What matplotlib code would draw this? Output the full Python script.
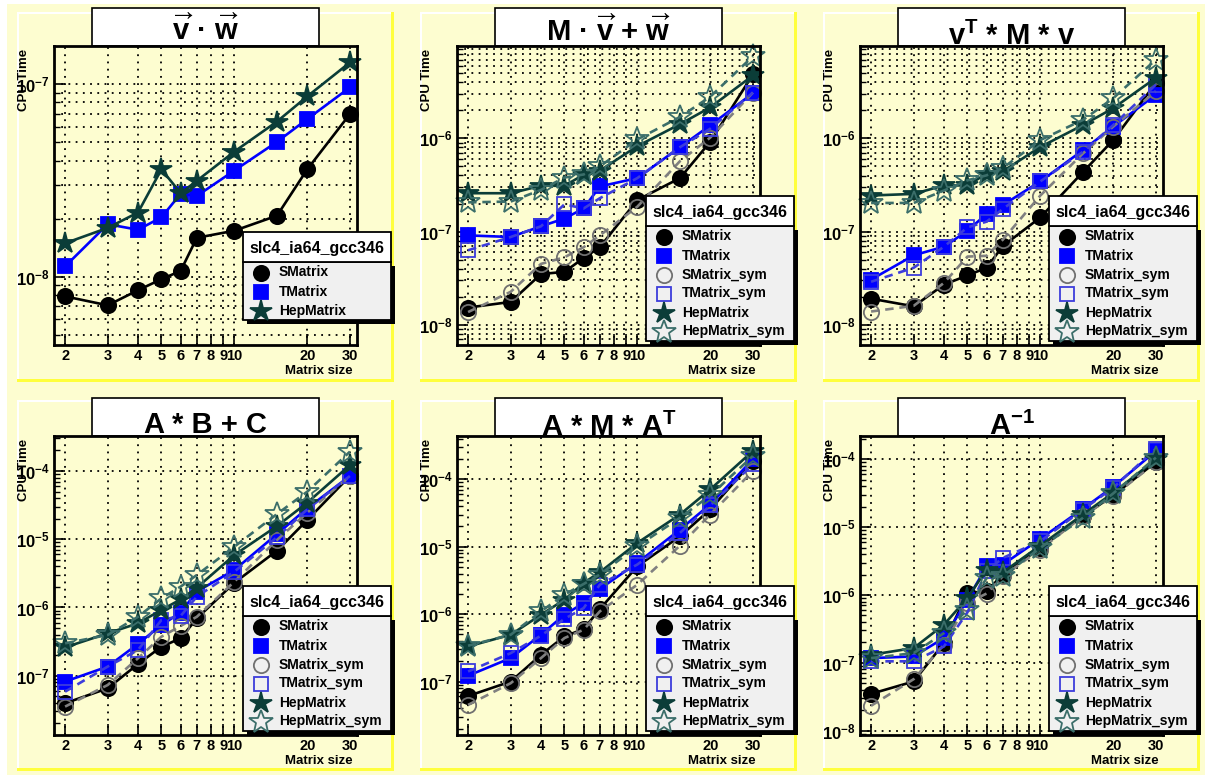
import numpy as np
import matplotlib
matplotlib.use("Agg")
import matplotlib.pyplot as plt
from matplotlib.patches import Rectangle
from matplotlib.ticker import FixedLocator, FixedFormatter, LogLocator, NullFormatter, NullLocator, FuncFormatter

plt.rcParams['font.family'] = ['Liberation Sans', 'DejaVu Sans']
plt.rcParams['font.weight'] = 'bold'
plt.rcParams['mathtext.fontset'] = 'custom'
plt.rcParams['mathtext.rm'] = 'Liberation Sans:bold'
plt.rcParams['mathtext.it'] = 'Liberation Sans:bold'
plt.rcParams['mathtext.bf'] = 'Liberation Sans:bold'

# matrix sizes (x values)
sizes = [2, 3, 4, 5, 6, 7, 10, 15, 20, 30]
xtick_vals = [2, 3, 4, 5, 6, 7, 8, 9, 10, 20, 30]
xtick_labels = ["2", "3", "4", "5", "6", "7", "8", "9", "10", "20", "30"]

# v . w
vw_smatrix = [7.9e-9, 7.1e-9, 8.5e-9, 9.7e-9, 1.07e-8, 1.59e-8, 1.73e-8, 2.07e-8, 3.6e-8, 6.96e-8]
vw_tmatrix = [1.13e-8, 1.87e-8, 1.75e-8, 2.03e-8, 2.69e-8, 2.62e-8, 3.55e-8, 5.0e-8, 6.56e-8, 9.57e-8]
vw_hep = [1.49e-8, 1.79e-8, 2.15e-8, 3.6e-8, 2.71e-8, 3.14e-8, 4.45e-8, 6.37e-8, 8.6e-8, 1.29e-7]

# M . v + w
mv_smatrix = [1.53e-8, 1.76e-8, 3.5e-8, 3.7e-8, 5.2e-8, 6.8e-8, 2.18e-7, 3.75e-7, 9.2e-7, 4.85e-6]
mv_tmatrix = [9.1e-8, 8.75e-8, 1.14e-7, 1.38e-7, 1.77e-7, 3.05e-7, 3.75e-7, 8.05e-7, 1.38e-6, 3.05e-6]
mv_smatrix_sym = [1.37e-8, 2.26e-8, 4.5e-8, 5.3e-8, 6.8e-8, 9.1e-8, 1.85e-7, 5.7e-7, 1.02e-6, 3.1e-6]
mv_tmatrix_sym = [6.3e-8, 8.75e-8, 1.14e-7, 1.96e-7, 1.77e-7, 2.28e-7, 3.75e-7, 8.05e-7, 1.27e-6, 3.1e-6]
mv_hep = [2.58e-7, 2.58e-7, 3.1e-7, 3.1e-7, 4.07e-7, 4.5e-7, 8.26e-7, 1.42e-6, 2.15e-6, 4.73e-6]
mv_hep_sym = [2.06e-7, 2.1e-7, 2.8e-7, 3.8e-7, 4.1e-7, 5.0e-7, 9.75e-7, 1.7e-6, 2.8e-6, 7.6e-6]

# v^T * M * v
vmv_smatrix = [1.91e-8, 1.58e-8, 2.7e-8, 3.39e-8, 4.1e-8, 7.0e-8, 1.42e-7, 4.36e-7, 9.6e-7, 3.94e-6]
vmv_tmatrix = [3.06e-8, 5.57e-8, 6.9e-8, 1.02e-7, 1.55e-7, 1.93e-7, 3.46e-7, 7.48e-7, 1.34e-6, 2.94e-6]
vmv_smatrix_sym = [1.39e-8, 1.6e-8, 2.82e-8, 5.4e-8, 5.5e-8, 8.2e-8, 2.44e-7, 6.9e-7, 1.34e-6, 3.2e-6]
vmv_tmatrix_sym = [2.9e-8, 4.1e-8, 6.9e-8, 1.11e-7, 1.28e-7, 1.75e-7, 3.46e-7, 7.2e-7, 1.39e-6, 3.78e-6]
vmv_hep = [2.44e-7, 2.54e-7, 3.13e-7, 3.13e-7, 4.19e-7, 4.44e-7, 8.1e-7, 1.39e-6, 2.11e-6, 4.46e-6]
vmv_hep_sym = [2.03e-7, 2.03e-7, 2.76e-7, 3.55e-7, 4.02e-7, 4.82e-7, 9.6e-7, 1.58e-6, 2.7e-6, 7.0e-6]

# A * B + C
abc_smatrix = [3.94e-8, 6.53e-8, 1.48e-7, 2.66e-7, 3.53e-7, 6.9e-7, 2.3e-6, 6.8e-6, 1.91e-5, 8.45e-5]
abc_tmatrix = [8.2e-8, 1.36e-7, 2.92e-7, 5.53e-7, 8.4e-7, 1.71e-6, 3.54e-6, 1.19e-5, 2.84e-5, 8.45e-5]
abc_smatrix_sym = [3.52e-8, 7.3e-8, 1.8e-7, 3.73e-7, 5.35e-7, 7.3e-7, 2.39e-6, 9.75e-6, 2.45e-5, 8.45e-5]
abc_tmatrix_sym = [5.83e-8, 1.36e-7, 2.38e-7, 6.55e-7, 7.5e-7, 1.44e-6, 3.35e-6, 1.07e-5, 2.74e-5, 8.45e-5]
abc_hep = [2.6e-7, 4.18e-7, 5.85e-7, 9.2e-7, 1.31e-6, 1.95e-6, 5.87e-6, 1.56e-5, 3.43e-5, 1.22e-4]
abc_hep_sym = [2.98e-7, 3.95e-7, 7.3e-7, 1.36e-6, 2.02e-6, 2.99e-6, 7.78e-6, 2.34e-5, 4.98e-5, 1.92e-4]

# A * M * A^T
ama_smatrix = [6.1e-8, 1.0e-7, 2.49e-7, 4.68e-7, 6.0e-7, 1.19e-6, 5.14e-6, 1.43e-5, 3.58e-5, 1.87e-4]
ama_tmatrix = [1.22e-7, 2.23e-7, 4.95e-7, 9.8e-7, 1.46e-6, 2.37e-6, 5.77e-6, 1.8e-5, 4.25e-5, 1.98e-4]
ama_smatrix_sym = [4.5e-8, 9.46e-8, 2.23e-7, 4.42e-7, 5.87e-7, 1.1e-6, 2.74e-6, 1.04e-5, 3.01e-5, 1.33e-4]
ama_tmatrix_sym = [1.41e-7, 2.64e-7, 4.79e-7, 8.5e-7, 1.23e-6, 2.74e-6, 5.45e-6, 1.61e-5, 4.1e-5, 1.67e-4]
ama_hep = [3.32e-7, 4.95e-7, 9.8e-7, 1.64e-6, 2.9e-6, 4.19e-6, 1.14e-5, 3.01e-5, 7.1e-5, 2.64e-4]
ama_hep_sym = [3.4e-7, 4.95e-7, 1.1e-6, 1.95e-6, 2.8e-6, 3.87e-6, 1.02e-5, 2.69e-5, 5.78e-5, 2.22e-4]

# A^-1
inv_smatrix = [3.48e-8, 5.3e-8, 1.95e-7, 1.07e-6, 1.13e-6, 2.0e-6, 4.95e-6, 1.46e-5, 2.94e-5, 9.14e-5]
inv_tmatrix = [1.17e-7, 1.24e-7, 2.32e-7, 8.53e-7, 2.65e-6, 2.81e-6, 6.73e-6, 1.87e-5, 3.95e-5, 1.33e-4]
inv_smatrix_sym = [2.32e-8, 5.74e-8, 1.85e-7, 7.62e-7, 1.05e-6, 1.89e-6, 4.68e-6, 1.46e-5, 2.87e-5, 9.0e-5]
inv_tmatrix_sym = [1.05e-7, 1.05e-7, 1.74e-7, 5.55e-7, 2.24e-6, 3.52e-6, 6.2e-6, 1.82e-5, 3.81e-5, 1.44e-4]
inv_hep = [1.31e-7, 1.65e-7, 3.65e-7, 9.0e-7, 2.37e-6, 2.16e-6, 5.36e-6, 1.54e-5, 3.21e-5, 1.0e-4]
inv_hep_sym = [1.17e-7, 1.39e-7, 2.74e-7, 6.07e-7, 1.78e-6, 1.89e-6, 4.95e-6, 1.37e-5, 3.15e-5, 1.06e-4]

legend_title = "slc4_ia64_gcc346"

BG = '#fdfdd0'
BEVEL_DARK = '#ffff3c'
HEP = '#0b3d38'
HEP_SYM = '#3b6e6a'

styles = {
    'SMatrix': dict(color='black', marker='o', mfc='black', mec='black', ls='-', ms=11),
    'TMatrix': dict(color='#0000ff', marker='s', mfc='#0000ff', mec='#0000ff', ls='-', ms=10.5),
    'SMatrix_sym': dict(color='#808080', marker='o', mfc='none', mec='#707070', ls='--', ms=11),
    'TMatrix_sym': dict(color='#3c3cdc', marker='s', mfc='none', mec='#3c3cdc', ls='--', ms=10.5),
    'HepMatrix': dict(color=HEP, marker='*', mfc=HEP, mec=HEP, ls='-', ms=16),
    'HepMatrix_sym': dict(color=HEP_SYM, marker='*', mfc='none', mec=HEP_SYM, ls='--', ms=18),
}

vec = r'$\overrightarrow{\mathbf{%s}}$'
panels = [
    dict(title=vec % 'v' + ' · ' + vec % 'w', base=40,
         series=[('SMatrix', vw_smatrix), ('TMatrix', vw_tmatrix), ('HepMatrix', vw_hep)],
         ylim=(4.42e-9, 1.57e-7), minor_grid=True),
    dict(title='M · ' + vec % 'v' + ' + ' + vec % 'w', base=41,
         series=[('SMatrix', mv_smatrix), ('TMatrix', mv_tmatrix), ('SMatrix_sym', mv_smatrix_sym),
                 ('TMatrix_sym', mv_tmatrix_sym), ('HepMatrix', mv_hep), ('HepMatrix_sym', mv_hep_sym)],
         ylim=(6.07e-9, 9.8e-6), minor_grid=True),
    dict(title=r'v$^{\mathbf{T}}$ * M * v', base=45,
         series=[('SMatrix', vmv_smatrix), ('TMatrix', vmv_tmatrix), ('SMatrix_sym', vmv_smatrix_sym),
                 ('TMatrix_sym', vmv_tmatrix_sym), ('HepMatrix', vmv_hep), ('HepMatrix_sym', vmv_hep_sym)],
         ylim=(6.08e-9, 9.8e-6), minor_grid=True),
    dict(title='A * B + C', base=433,
         series=[('SMatrix', abc_smatrix), ('TMatrix', abc_tmatrix), ('SMatrix_sym', abc_smatrix_sym),
                 ('TMatrix_sym', abc_tmatrix_sym), ('HepMatrix', abc_hep), ('HepMatrix_sym', abc_hep_sym)],
         ylim=(1.35e-8, 3.26e-4), minor_grid=False),
    dict(title=r'A * M * A$^{\mathbf{T}}$', base=436,
         series=[('SMatrix', ama_smatrix), ('TMatrix', ama_tmatrix), ('SMatrix_sym', ama_smatrix_sym),
                 ('TMatrix_sym', ama_tmatrix_sym), ('HepMatrix', ama_hep), ('HepMatrix_sym', ama_hep_sym)],
         ylim=(1.61e-8, 4.4e-4), minor_grid=False),
    dict(title=r'A$^{\mathbf{-1}}$', base=435,
         series=[('SMatrix', inv_smatrix), ('TMatrix', inv_tmatrix), ('SMatrix_sym', inv_smatrix_sym),
                 ('TMatrix_sym', inv_tmatrix_sym), ('HepMatrix', inv_hep), ('HepMatrix_sym', inv_hep_sym)],
         ylim=(8.6e-9, 2.21e-4), minor_grid=False),
]

W, H = 1205, 775
fig = plt.figure(figsize=(W / 100, H / 100), dpi=100, facecolor=BG)

bg = fig.add_axes([0, 0, 1, 1], zorder=0)
bg.set_xlim(0, W); bg.set_ylim(H, 0); bg.axis('off')
top = fig.add_axes([0, 0, 1, 1], zorder=5)
top.set_xlim(0, W); top.set_ylim(H, 0); top.axis('off')

# white margin of the canvas
bg.add_patch(Rectangle((0, 0), 7, H, color='white', lw=0))
bg.add_patch(Rectangle((0, 0), W, 4, color='white', lw=0))

pad_cols = [(17, 394), (420, 797), (823, 1200)]
pad_rows = [(12, 382), (400, 771)]
ax_cols = [(54, 357), (457, 760), (860, 1163)]
ax_rows = [(46, 345), (436, 735)]
title_cols = [(92, 319), (495, 722), (898, 1125)]
title_rows = [(8, 46), (398, 436)]


def yfmt(v, p):
    return r'$10^{%d}$' % int(round(np.log10(v)))


for i, p in enumerate(panels):
    r, c = divmod(i, 3)
    pl, pr = pad_cols[c]
    pt, pb = pad_rows[r]
    # pad bevel
    bg.add_patch(Rectangle((pl, pt), pr - pl, 2, color='white', lw=0))
    bg.add_patch(Rectangle((pl, pt), 2, pb - pt, color='white', lw=0))
    bg.add_patch(Rectangle((pl, pb - 3), pr - pl, 3, color=BEVEL_DARK, lw=0))
    bg.add_patch(Rectangle((pr - 3, pt), 3, pb - pt, color=BEVEL_DARK, lw=0))

    # title box
    tl, tr = title_cols[c]
    tt, tb = title_rows[r]
    bg.add_patch(Rectangle((tl, tt), tr - tl, tb - tt, facecolor='white', edgecolor='black', lw=1.2))
    bg.text((tl + tr) / 2, p['base'], p['title'], ha='center', va='baseline', fontsize=21,
            fontweight='bold')

    al, ar = ax_cols[c]
    at, ab = ax_rows[r]
    ax = fig.add_axes([al / W, 1 - ab / H, (ar - al) / W, (ab - at) / H], zorder=2)
    ax.set_facecolor(BG)
    for name, vals in p['series']:
        st = styles[name]
        ln, = ax.plot(sizes, vals, color=st['color'], ls=st['ls'], lw=1.9, marker=st['marker'],
                      ms=st['ms'], mfc=st['mfc'], mec=st['mec'], mew=1.3, clip_on=False)
        if st['ls'] == '--':
            ln.set_dashes((3.2, 2.2))
    ax.set_xscale('log'); ax.set_yscale('log')
    ax.set_xlim(1.8, 32.1)
    ax.set_ylim(*p['ylim'])
    ax.xaxis.set_major_locator(FixedLocator(xtick_vals))
    ax.xaxis.set_major_formatter(FixedFormatter(xtick_labels))
    ax.xaxis.set_minor_locator(NullLocator())
    ax.yaxis.set_major_locator(LogLocator(base=10, numticks=20))
    ax.yaxis.set_major_formatter(FuncFormatter(yfmt))
    ax.yaxis.set_minor_locator(LogLocator(base=10, subs=np.arange(2, 10), numticks=20))
    ax.yaxis.set_minor_formatter(NullFormatter())
    ax.tick_params(which='both', direction='in', top=False, right=False, pad=3)
    ax.tick_params(axis='x', labelsize=10.5)
    ax.tick_params(axis='y', labelsize=12)
    ax.tick_params(which='major', length=8, width=1.2)
    ax.tick_params(which='minor', length=4, width=1.0)
    for s in ax.spines.values():
        s.set_linewidth(2.0)
    ax.grid(True, which='major', color='black', ls=(0, (1, 3)), lw=1.3)
    if p['minor_grid']:
        ax.grid(True, which='minor', axis='y', color='black', ls=(0, (1, 3)), lw=1.3)
    ax.set_axisbelow(True)

    fig.text((al - 30) / W, 1 - (at + 3) / H, 'CPU Time', rotation=90, ha='center', va='top',
             fontsize=9.5, fontweight='bold')
    fig.text((ar - 4) / W, 1 - (ab + 26) / H, 'Matrix size', ha='right', va='center',
             fontsize=9.5, fontweight='bold')

    # legend
    n = len(p['series'])
    lx0, lx1 = al + 189, al + 337
    if n == 3:
        hy0 = at + 186
    else:
        hy0 = at + 150
    hy1 = hy0 + 30
    ey1 = hy1 + n * 19 + 1
    top.add_patch(Rectangle((lx0 + 4, hy1 + 4), lx1 - lx0, ey1 - hy1, facecolor='black', lw=0))
    top.add_patch(Rectangle((lx0, hy1), lx1 - lx0, ey1 - hy1, facecolor='#f0f0f0', edgecolor='black', lw=1.3))
    top.add_patch(Rectangle((lx0, hy0), lx1 - lx0, hy1 - hy0, facecolor='white', edgecolor='black', lw=1.3))
    top.text((lx0 + lx1) / 2, (hy0 + hy1) / 2 + 1, legend_title, ha='center', va='center',
             fontsize=11.5, fontweight='bold')
    for k, (name, vals) in enumerate(p['series']):
        st = styles[name]
        yy = hy1 + 10.5 + k * 19
        top.plot([lx0 + 18], [yy], ls='none', marker=st['marker'], ms=st['ms'], mfc=st['mfc'],
                 mec=st['mec'], mew=1.3)
        top.text(lx0 + 36, yy, name, ha='left', va='center', fontsize=10, fontweight='bold')

fig.savefig('out.png', dpi=100, facecolor=BG)
